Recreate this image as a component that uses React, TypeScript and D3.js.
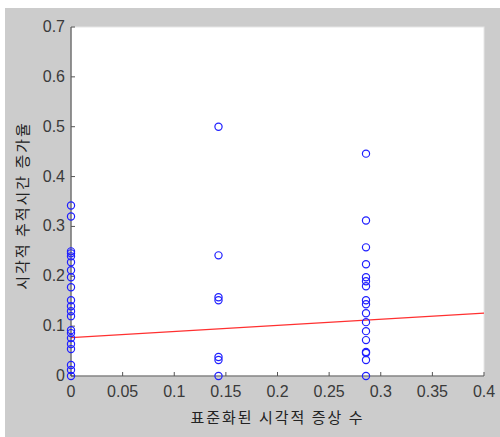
import React from 'react';
import * as d3 from 'd3';

// x positions of the three groups (standardized visual symptom count)
const groupX = [0, 1 / 7, 2 / 7];

// visual tracking time increase rate per group
const group0 = [0.342, 0.32, 0.25, 0.246, 0.24, 0.228, 0.212, 0.198, 0.178, 0.152, 0.14, 0.13, 0.12, 0.092, 0.086, 0.076, 0.064, 0.054, 0.022, 0.012, 0];
const group1 = [0.5, 0.242, 0.158, 0.152, 0.038, 0.032, 0];
const group2 = [0.446, 0.312, 0.258, 0.224, 0.198, 0.19, 0.18, 0.152, 0.144, 0.126, 0.108, 0.09, 0.072, 0.048, 0.046, 0.032, 0];

// fitted line end points
const fitX = [0, 0.4];
const fitY = [0.077, 0.126];

const xTicks = [0, 0.05, 0.1, 0.15, 0.2, 0.25, 0.3, 0.35, 0.4];
const yTicks = [0, 0.1, 0.2, 0.3, 0.4, 0.5, 0.6, 0.7];

const xLabel = '표준화된 시각적 증상 수';
const yLabel = '시각적 추적시간 증가율';

const W = 500;
const H = 437;
const plot = { left: 71, right: 484, top: 27, bottom: 376 };

export default function App() {
  const x = d3.scaleLinear().domain([0, 0.4]).range([plot.left, plot.right]);
  const y = d3.scaleLinear().domain([0, 0.7]).range([plot.bottom, plot.top]);

  const points = [group0, group1, group2].flatMap((vals, i) =>
    vals.map((v) => ({ x: groupX[i], y: v }))
  );

  const line = d3
    .line<number>()
    .x((d) => x(d))
    .y((_, i) => y(fitY[i]));

  const font = '"Liberation Sans", Arial, sans-serif';
  const kfont = '"Noto Sans CJK KR", "Noto Sans", sans-serif';
  const axisColor = '#555';

  return (
    <svg
      width={W}
      height={H}
      style={{ position: 'absolute', left: 0, top: 0 }}
    >
      <rect x={0} y={0} width={W} height={H} fill="#fff" />
      <rect x={5} y={8} width={W - 5} height={H - 8} fill="#cccccc" />
      <rect
        x={plot.left}
        y={plot.top}
        width={plot.right - plot.left}
        height={plot.bottom - plot.top}
        fill="#fff"
        stroke="#e6e6e6"
        strokeWidth={1}
      />

      {/* fitted line */}
      <path d={line(fitX) || ''} stroke="#ff3030" strokeWidth={1.2} fill="none" />

      {/* axes */}
      <line x1={plot.left} x2={plot.left} y1={plot.top} y2={plot.bottom} stroke={axisColor} strokeWidth={1.2} />
      <line x1={plot.left} x2={plot.right} y1={plot.bottom} y2={plot.bottom} stroke={axisColor} strokeWidth={1.2} />

      {xTicks.map((t) => (
        <g key={'x' + t}>
          <line x1={x(t)} x2={x(t)} y1={plot.bottom} y2={plot.bottom - 4} stroke={axisColor} />
          <text
            x={x(t)}
            y={plot.bottom + 21}
            textAnchor="middle"
            fontFamily={font}
            fontSize={16}
            fill="#3a3a3a"
          >
            {t === 0 ? '0' : String(t)}
          </text>
        </g>
      ))}
      {yTicks.map((t) => (
        <g key={'y' + t}>
          <line x1={plot.left} x2={plot.left + 4} y1={y(t)} y2={y(t)} stroke={axisColor} />
          <text
            x={plot.left - 6}
            y={y(t) + 5}
            textAnchor="end"
            fontFamily={font}
            fontSize={16}
            fill="#3a3a3a"
          >
            {t === 0 ? '0' : String(t)}
          </text>
        </g>
      ))}

      {/* points */}
      {points.map((p, i) => (
        <circle
          key={i}
          cx={x(p.x)}
          cy={y(p.y)}
          r={3.6}
          fill="none"
          stroke="#2020ff"
          strokeWidth={1.2}
        />
      ))}

      <text
        x={(plot.left + plot.right) / 2}
        y={423}
        textAnchor="middle"
        fontFamily={kfont}
        fontSize={15}
        letterSpacing={2}
        fill="#222"
      >
        {xLabel}
      </text>
      <text
        transform={`translate(28,${(plot.top + plot.bottom) / 2 + 4}) rotate(-90)`}
        textAnchor="middle"
        fontFamily={kfont}
        fontSize={15}
        letterSpacing={2}
        fill="#222"
      >
        {yLabel}
      </text>
    </svg>
  );
}
